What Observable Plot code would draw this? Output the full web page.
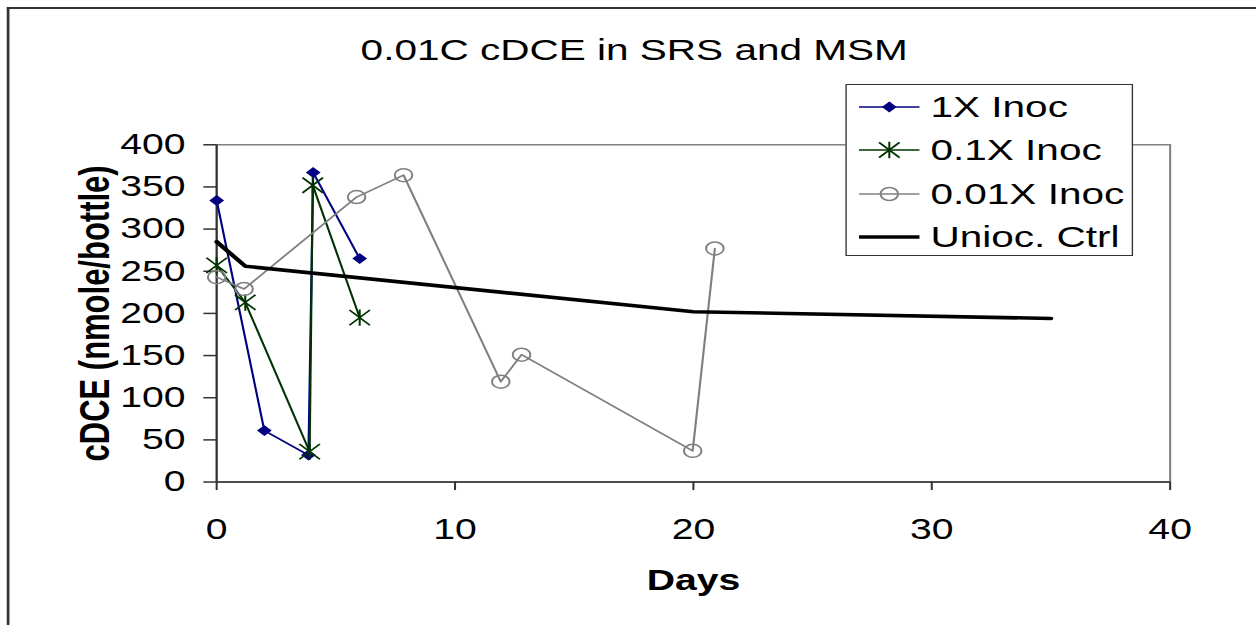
<!DOCTYPE html>
<html><head><meta charset="utf-8">
<script src="https://cdn.jsdelivr.net/npm/d3@7"></script>
<script src="https://cdn.jsdelivr.net/npm/@observablehq/plot@0.6"></script>
<style>
html,body{margin:0;padding:0;background:#fff;overflow:hidden;}
#wrap{position:relative;width:930px;height:625px;transform-origin:0 0;transform:scaleX(1.3505);font-family:Arial,"Liberation Sans",sans-serif;color:#000;}
#border{position:absolute;left:5px;top:7px;width:960px;height:640px;border-left:2px solid #333;border-top:2px solid #333;}
#title{position:absolute;top:34px;left:469.6px;transform:translateX(-50%);font-size:30px;line-height:32px;white-space:nowrap;}
#chart{position:absolute;left:0;top:88px;}
#legend{position:absolute;left:626px;top:84px;width:213px;height:172px;box-sizing:border-box;border:1.5px solid #333;background:#fff;padding-top:0px;}
.row{display:flex;align-items:center;height:43.5px;}
.row svg{margin-left:9px;flex:none;}
.row span{margin-left:8px;font-size:30px;line-height:30px;white-space:nowrap;}
</style></head>
<body>
<div id="wrap">
  <div id="border"></div>
  <div id="title"></div>
  <div id="chart"></div>
  <div id="legend"></div>
</div>
<script>
// ---- data ----
const chartTitle = "0.01C cDCE in SRS and MSM";
const xLabel = "Days";
const yLabel = "cDCE (nmole/bottle)";
const seriesNames = ["1X Inoc", "0.1X Inoc", "0.01X Inoc", "Unioc. Ctrl"];
const xTicks = [0, 10, 20, 30, 40];
const yTicks = [0, 50, 100, 150, 200, 250, 300, 350, 400];

const days1X = [0, 2, 3.85, 4.05, 6];
const vals1X = [334, 61, 32, 367, 265];
const days01X = [0, 1.2, 3.9, 4.03, 6];
const vals01X = [257, 213, 36, 352, 195];
const days001X = [0, 1.15, 5.87, 7.84, 11.92, 12.79, 19.97, 20.9];
const vals001X = [243, 229, 338, 364, 119, 151, 37, 277];
const daysCtrl = [0, 1.2, 20, 35];
const valsCtrl = [285, 256, 202, 194];

// ---- styling ----
const colors = ["#000080", "#003300", "#808080", "#000000"];
const W = 930.37;
const star = {draw(ctx, size){ const r = Math.sqrt(size/Math.PI);
  ctx.moveTo(0,-r*1.08); ctx.lineTo(0,r*1.08);
  ctx.moveTo(-r,-r); ctx.lineTo(r,r);
  ctx.moveTo(-r,r); ctx.lineTo(r,-r);}};

const rows = (ds, vs) => ds.map((d,i) => ({day:d, val:vs[i]}));
const s1 = rows(days1X, vals1X), s2 = rows(days01X, vals01X), s3 = rows(days001X, vals001X), s4 = rows(daysCtrl, valsCtrl);

document.getElementById("title").textContent = chartTitle;

const plot = Plot.plot({
  width: W, height: 537,
  marginLeft: 160, marginRight: W - 866.3, marginTop: 56.3, marginBottom: 143.3,
  x: {domain: [0, 40]},
  y: {domain: [0, 400]},
  style: {fontFamily: "Arial, 'Liberation Sans', sans-serif", fontSize: "29px", color: "#000", background: "transparent", overflow: "visible"},
  marks: [
    Plot.frame({stroke: "#808080", strokeWidth: 1.5}),
    Plot.axisY({ticks: yTicks, tickSize: 9.4, tickPadding: 13.6, label: null, stroke: "#333", strokeWidth: 1.5}),
    Plot.axisX({ticks: xTicks, tickSize: 8.5, tickPadding: 28.3, label: null, stroke: "#333", strokeWidth: 1.5}),
    Plot.ruleX([0], {stroke: "#333", strokeWidth: 1.5}),
    Plot.ruleY([0], {stroke: "#333", strokeWidth: 1.5}),
    Plot.line(s1, {x: "day", y: "val", stroke: colors[0], strokeWidth: 1.6}),
    Plot.dot(s1, {x: "day", y: "val", symbol: "diamond2", r: 4.3, fill: colors[0], stroke: colors[0], strokeWidth: 1}),
    Plot.line(s2, {x: "day", y: "val", stroke: colors[1], strokeWidth: 1.6}),
    Plot.dot(s2, {x: "day", y: "val", symbol: star, r: 7.6, fill: "none", stroke: colors[1], strokeWidth: 1.5}),
    Plot.line(s3, {x: "day", y: "val", stroke: colors[2], strokeWidth: 1.6}),
    Plot.dot(s3, {x: "day", y: "val", symbol: "circle", r: 6.5, fill: "none", stroke: colors[2], strokeWidth: 1.5}),
    Plot.line(s4, {x: "day", y: "val", stroke: colors[3], strokeWidth: 3.6}),
    Plot.text([yLabel], {text: d => d, frameAnchor: "left", textAnchor: "middle", dx: -90, rotate: -90, fontWeight: "bold", fontSize: 31}),
    Plot.text([xLabel], {text: d => d, frameAnchor: "bottom", dy: 108, fontWeight: "bold", fontSize: 29})
  ]
});
document.getElementById("chart").appendChild(plot);

// ---- legend ----
const legend = d3.select("#legend");
const symDefs = [
  {type: d3.symbolDiamond2, r: 4.3, fill: colors[0], w: 1.6},
  {type: star, r: 7.6, fill: "none", w: 1.6},
  {type: d3.symbolCircle, r: 6.5, fill: "none", w: 1.6},
  null
];
seriesNames.forEach((name, i) => {
  const row = legend.append("div").attr("class", "row");
  const svg = row.append("svg").attr("width", 45).attr("height", 30);
  svg.append("line").attr("x1", 0).attr("x2", 45).attr("y1", 15).attr("y2", 15)
    .attr("stroke", colors[i]).attr("stroke-width", i === 3 ? 3.6 : 1.6);
  const s = symDefs[i];
  if (s) {
    svg.append("path").attr("transform", "translate(22.5,15)")
      .attr("d", d3.symbol(s.type, s.r * s.r * Math.PI)())
      .attr("fill", s.fill).attr("stroke", colors[i]).attr("stroke-width", i === 0 ? 1 : 1.5);
  }
  row.append("span").text(name);
});
</script>
</body></html>
